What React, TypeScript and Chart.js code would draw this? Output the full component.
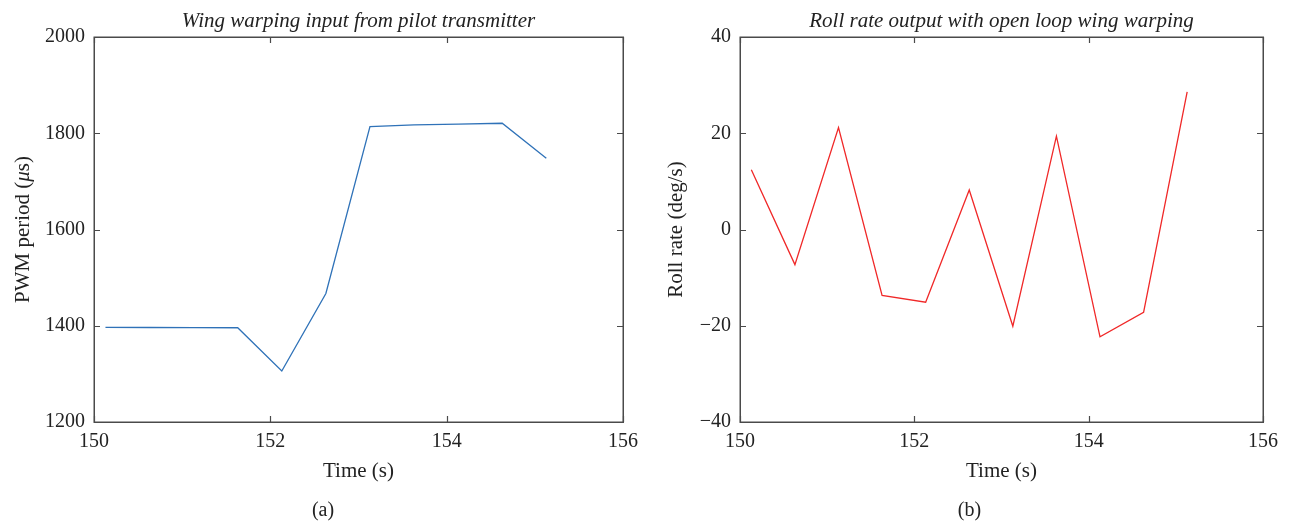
import React, { useEffect, useRef } from "react";
import { Chart, registerables } from "chart.js";

Chart.register(...registerables);

// ---- data ----
const timeA: number[] = [150.13, 150.63, 151.13, 151.63, 152.13, 152.63, 153.13, 153.63, 154.13, 154.63, 155.13];
const pwmValues: number[] = [1396.5, 1396.4, 1396.0, 1395.8, 1306.0, 1467.0, 1813.7, 1817.5, 1819.0, 1820.8, 1748.0];
const timeB: number[] = [150.13, 150.63, 151.13, 151.63, 152.13, 152.63, 153.13, 153.63, 154.13, 154.63, 155.13];
const rollValues: number[] = [12.4, -7.3, 21.2, -13.7, -15.1, 8.2, -20.1, 19.4, -22.3, -17.2, 28.6];

const xTickValues: number[] = [150, 152, 154, 156];
const pwmTickValues: number[] = [1200, 1400, 1600, 1800, 2000];
const rollTickValues: number[] = [-40, -20, 0, 20, 40];

const SERIF = "'Liberation Serif', 'Times New Roman', serif";

type Panel = {
  title: string;
  yLabel: { text: string; italic: boolean }[];
  yLabelOffset: number;
  xLabel: string;
  caption: string;
  xs: number[];
  ys: number[];
  color: string;
  yMin: number;
  yMax: number;
  yTicks: number[];
  canvasW: number;
  plotLeft: number;
  plotRight: number;
};

const CANVAS_H = 523;
const PLOT_TOP = 37;
const PLOT_BOTTOM = 422;

function fmtTick(v: number): string {
  const s = String(Math.round(v));
  return s.replace("-", "\u2212");
}

function makeDecorPlugin(p: Panel) {
  return {
    id: "decor",
    afterDraw(chart: any) {
      const ctx: CanvasRenderingContext2D = chart.ctx;
      const a = chart.chartArea;
      const xs = chart.scales.x;
      const ys = chart.scales.y;
      ctx.save();
      // box
      ctx.strokeStyle = "#4a4a4a";
      ctx.lineWidth = 1.5;
      ctx.strokeRect(Math.round(a.left) + 0.25, Math.round(a.top) + 0.25, Math.round(a.right - a.left), Math.round(a.bottom - a.top));
      // inward ticks
      const tl = 6;
      ctx.lineWidth = 1.2;
      ctx.beginPath();
      xs.ticks.forEach((t: any) => {
        const px = Math.round(xs.getPixelForValue(t.value)) + 0.5;
        ctx.moveTo(px, a.bottom);
        ctx.lineTo(px, a.bottom - tl);
        ctx.moveTo(px, a.top);
        ctx.lineTo(px, a.top + tl);
      });
      ys.ticks.forEach((t: any) => {
        const py = Math.round(ys.getPixelForValue(t.value)) + 0.5;
        ctx.moveTo(a.left, py);
        ctx.lineTo(a.left + tl, py);
        ctx.moveTo(a.right, py);
        ctx.lineTo(a.right - tl, py);
      });
      ctx.stroke();

      const cx = (a.left + a.right) / 2;
      const cy = (a.top + a.bottom) / 2;
      ctx.fillStyle = "#222";
      // title
      ctx.font = `italic 21px ${SERIF}`;
      ctx.textAlign = "center";
      ctx.textBaseline = "alphabetic";
      ctx.fillText(p.title, cx, 27);
      // x label
      ctx.font = `21px ${SERIF}`;
      ctx.fillText(p.xLabel, cx, 477);
      // caption
      ctx.font = `20px ${SERIF}`;
      ctx.textBaseline = "middle";
      ctx.fillText(p.caption, chart.width / 2, 511);
      // y label (rotated, mixed italic)
      ctx.save();
      ctx.translate(p.plotLeft - p.yLabelOffset, cy);
      ctx.rotate(-Math.PI / 2);
      ctx.textBaseline = "middle";
      ctx.textAlign = "left";
      const fonts = p.yLabel.map((seg) => (seg.italic ? `italic 21px ${SERIF}` : `21px ${SERIF}`));
      let total = 0;
      const widths = p.yLabel.map((seg, i) => {
        ctx.font = fonts[i];
        const w = ctx.measureText(seg.text).width;
        total += w;
        return w;
      });
      let x0 = -total / 2;
      p.yLabel.forEach((seg, i) => {
        ctx.font = fonts[i];
        ctx.fillText(seg.text, x0, 0);
        x0 += widths[i];
      });
      ctx.restore();
      ctx.restore();
    },
  };
}

function PanelChart({ p, left }: { p: Panel; left: number }) {
  const ref = useRef<HTMLCanvasElement | null>(null);
  useEffect(() => {
    if (!ref.current) return;
    const chart = new Chart(ref.current, {
      type: "line",
      data: {
        datasets: [
          {
            data: p.xs.map((x, i) => ({ x, y: p.ys[i] })),
            borderColor: p.color,
            borderWidth: 1.3,
            pointRadius: 0,
            tension: 0,
            fill: false,
          },
        ],
      },
      options: {
        animation: false,
        responsive: false,
        devicePixelRatio: 1,
        layout: { padding: { left: 0, right: p.canvasW - p.plotRight, top: PLOT_TOP, bottom: 0 } },
        plugins: { legend: { display: false }, title: { display: false }, tooltip: { enabled: false } },
        scales: {
          x: {
            type: "linear",
            min: 150,
            max: 156,
            afterBuildTicks: (s: any) => {
              s.ticks = xTickValues.map((v) => ({ value: v }));
            },
            afterFit: (s: any) => {
              s.height = CANVAS_H - PLOT_BOTTOM;
            },
            grid: { display: false, drawTicks: false },
            border: { display: false },
            ticks: {
              padding: 8,
              color: "#222",
              font: { family: SERIF, size: 20 },
              maxRotation: 0,
              callback: (v: any) => fmtTick(Number(v)),
            },
          },
          y: {
            type: "linear",
            min: p.yMin,
            max: p.yMax,
            afterBuildTicks: (s: any) => {
              s.ticks = p.yTicks.map((v) => ({ value: v }));
            },
            afterFit: (s: any) => {
              s.width = p.plotLeft;
            },
            grid: { display: false, drawTicks: false },
            border: { display: false },
            ticks: {
              padding: 9,
              color: "#222",
              font: { family: SERIF, size: 20 },
              callback: (v: any) => fmtTick(Number(v)),
            },
          },
        },
      },
      plugins: [makeDecorPlugin(p)],
    } as any);
    return () => chart.destroy();
  }, [p]);
  return (
    <canvas
      ref={ref}
      width={p.canvasW}
      height={CANVAS_H}
      style={{ position: "absolute", left, top: 0, width: p.canvasW, height: CANVAS_H }}
    />
  );
}

const panelA: Panel = {
  title: "Wing warping input from pilot transmitter",
  yLabel: [
    { text: "PWM period (", italic: false },
    { text: "\u03bc", italic: true },
    { text: "s)", italic: false },
  ],
  yLabelOffset: 71,
  xLabel: "Time (s)",
  caption: "(a)",
  xs: timeA,
  ys: pwmValues,
  color: "#2f72b8",
  yMin: 1200,
  yMax: 2000,
  yTicks: pwmTickValues,
  canvasW: 646,
  plotLeft: 94,
  plotRight: 623,
};

const panelB: Panel = {
  title: "Roll rate output with open loop wing warping",
  yLabel: [{ text: "Roll rate (deg/s)", italic: false }],
  yLabelOffset: 64,
  xLabel: "Time (s)",
  caption: "(b)",
  xs: timeB,
  ys: rollValues,
  color: "#f02828",
  yMin: -40,
  yMax: 40,
  yTicks: rollTickValues,
  canvasW: 647,
  plotLeft: 94,
  plotRight: 617,
};

export default function App() {
  return (
    <div style={{ position: "fixed", left: 0, top: 0, width: 1293, height: 523, background: "#fff" }}>
      <PanelChart p={panelA} left={0} />
      <PanelChart p={panelB} left={646} />
    </div>
  );
}
